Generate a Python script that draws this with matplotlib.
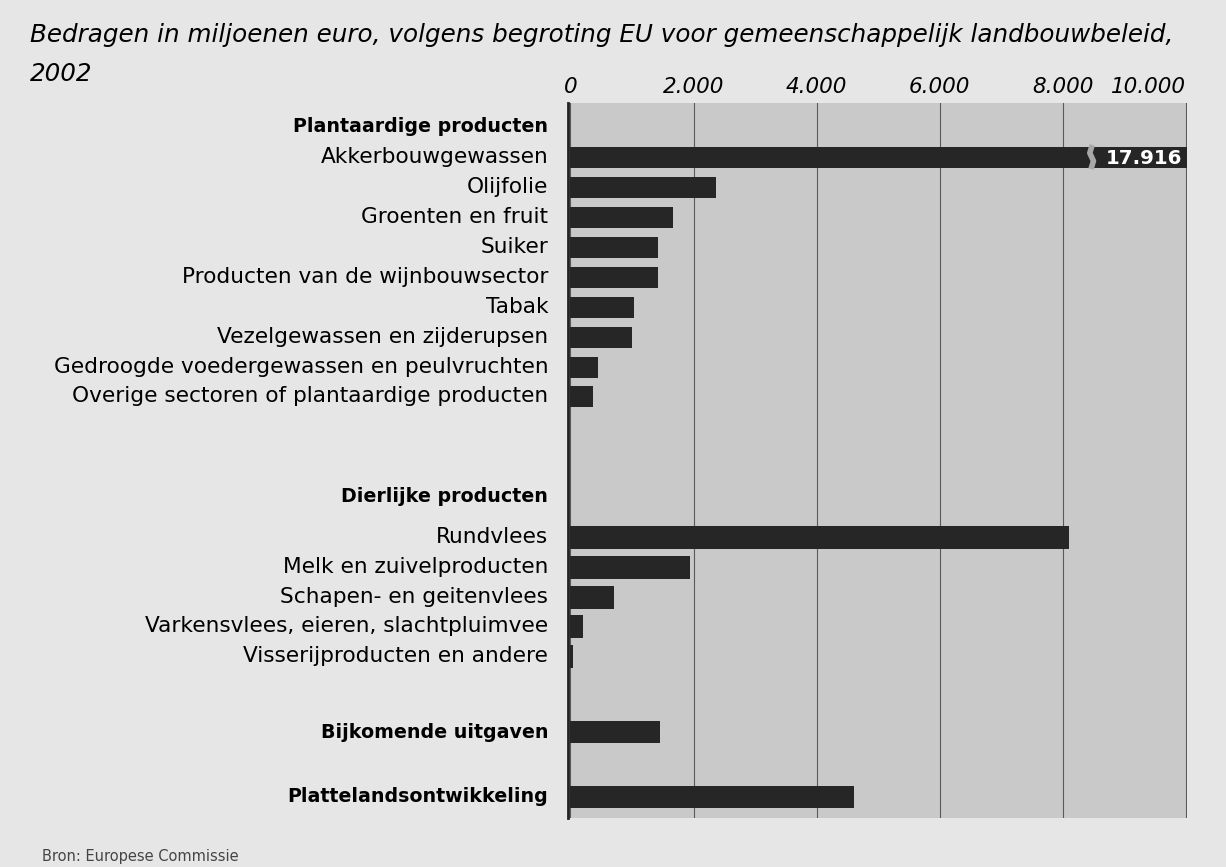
import matplotlib.pyplot as plt
import matplotlib.transforms as mtransforms
from matplotlib.ticker import FuncFormatter

# bedragen in miljoenen euro, begroting EU 2002
plant_labels = ["Akkerbouwgewassen", "Olijfolie", "Groenten en fruit", "Suiker",
                "Producten van de wijnbouwsector", "Tabak", "Vezelgewassen en zijderupsen",
                "Gedroogde voedergewassen en peulvruchten",
                "Overige sectoren of plantaardige producten"]
plant_values = [17916, 2370, 1670, 1430, 1430, 1030, 1000, 450, 370]

animal_labels = ["Rundvlees", "Melk en zuivelproducten", "Schapen- en geitenvlees",
                 "Varkensvlees, eieren, slachtpluimvee", "Visserijproducten en andere"]
animal_values = [8100, 1940, 700, 200, 40]

extra_labels = ["Bijkomende uitgaven", "Plattelandsontwikkeling"]
extra_values = [1450, 4600]

group_headers = ["Plantaardige producten", "Dierlijke producten"]
xticks = [0, 2000, 4000, 6000, 8000, 10000]
xmax = 10000

# layout (row positions, top to bottom)
plant_header_y = 127
plant_y = [157, 187, 217, 247, 277, 307, 337, 367, 396]
animal_header_y = 496
animal_y = [537, 567, 597, 626, 656]
extra_y = [732, 797]

bg = "#e6e6e6"
panel = "#c9c9c9"
bar_col = "#262626"
fs = 15.6
fs_bold = 13.7

fig = plt.figure(figsize=(12.26, 8.67), dpi=100, facecolor=bg)
ax = fig.add_axes([568 / 1226, 1 - 818 / 867, (1187 - 568) / 1226, (818 - 103) / 867])
ax.set_facecolor(panel)
ax.set_ylim(818, 103)
ax.set_xlim(-40, xmax + 20)

ax.barh(plant_y, [min(v, xmax + 20) for v in plant_values], height=21, color=bar_col, zorder=3)
ax.barh(animal_y, animal_values, height=23, color=bar_col, zorder=3)
ax.barh(extra_y, extra_values, height=22, color=bar_col, zorder=3)

# onderbreking van de lange balk
ax.plot([8480, 8440, 8500, 8460], [plant_y[0] - 12, plant_y[0] - 4, plant_y[0] + 4, plant_y[0] + 12],
        color="#a8a8a8", lw=4, zorder=4, solid_capstyle="butt")
ax.text(xmax - 60, plant_y[0] + 1, f"{plant_values[0]:,}".replace(",", "."), color="white",
        fontsize=14.2, fontweight="bold", ha="right", va="center", zorder=5)

ax.grid(axis="x", color="#5a5a5a", lw=0.8, zorder=1)
ax.set_xticks(xticks)
ax.xaxis.set_major_formatter(FuncFormatter(lambda v, p: f"{int(v):,}".replace(",", ".")))
ax.xaxis.tick_top()
ax.tick_params(axis="x", length=0, pad=4, labelsize=15.5)
for lab in ax.get_xticklabels():
    lab.set_fontstyle("italic")
ax.get_xticklabels()[-1].set_ha("right")
ax.set_yticks([])
for s in ["top", "right", "bottom"]:
    ax.spines[s].set_visible(False)
ax.spines["left"].set_color("#222222")
ax.spines["left"].set_linewidth(2)

trans = mtransforms.blended_transform_factory(ax.transAxes, ax.transData)
lx = -0.032
ax.text(lx, plant_header_y, group_headers[0], transform=trans, ha="right", va="center",
        fontsize=fs_bold, fontweight="bold")
ax.text(lx, animal_header_y, group_headers[1], transform=trans, ha="right", va="center",
        fontsize=fs_bold, fontweight="bold")
for lab, y in zip(plant_labels, plant_y):
    ax.text(lx, y, lab, transform=trans, ha="right", va="center", fontsize=fs)
for lab, y in zip(animal_labels, animal_y):
    ax.text(lx, y, lab, transform=trans, ha="right", va="center", fontsize=fs)
for lab, y in zip(extra_labels, extra_y):
    ax.text(lx, y, lab, transform=trans, ha="right", va="center", fontsize=fs_bold,
            fontweight="bold")

fig.text(30 / 1226, 1 - 35 / 867,
         "Bedragen in miljoenen euro, volgens begroting EU voor gemeenschappelijk landbouwbeleid,",
         fontsize=17.7, fontstyle="italic", va="center", ha="left")
fig.text(30 / 1226, 1 - 74 / 867, "2002", fontsize=17.7, fontstyle="italic", va="center", ha="left")
fig.text(42 / 1226, 1 - 857 / 867, "Bron: Europese Commissie", fontsize=10.5, color="#444444",
         va="center", ha="left")

fig.savefig("out.png", dpi=100, facecolor=bg)
